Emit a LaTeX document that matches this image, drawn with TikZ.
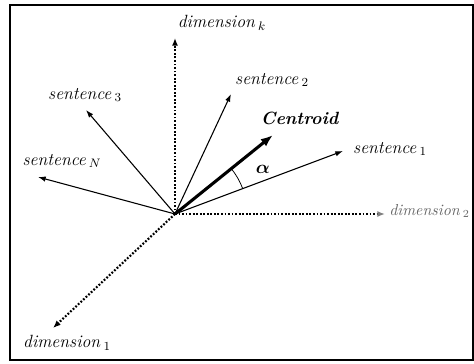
\documentclass[tikz,border=0pt]{standalone}
\usepackage{bm}
\usepackage{tikz}
\usetikzlibrary{arrows.meta, angles}

\tikzset{
  vec/.style={-{Latex[length=5pt,width=3.5pt]}, line width=0.7pt},
  cenvec/.style={-{Latex[length=8pt,width=6pt]}, line width=2pt},
  dimaxis/.style={-{Latex[length=5pt,width=4pt]}, line width=1.4pt, dash pattern=on 1.2pt off 1.1pt},
  lbl/.style={font=\fontsize{11.5}{13}\selectfont}
}

\begin{document}
\begin{tikzpicture}[x=0.65pt, y=0.65pt]
\useasboundingbox (0,0) rectangle (474,363);
\draw[line width=0.9pt] (10,3) rectangle (473,358);
% Punkte
\coordinate (O) at (175,149);
\coordinate (dk) at (175,325);
\coordinate (d2) at (385,149);
\coordinate (d1) at (53,35);
\coordinate (s1) at (343,212);
\coordinate (s2) at (231,269);
\coordinate (s3) at (86,253);
\coordinate (sN) at (38,186);
\coordinate (cen) at (273,228);
% Achsen
\draw[dimaxis] (O) -- (dk);
\draw[dimaxis, -{Latex[length=5pt,width=4pt,gray]}] (O) -- (d2);
\draw[dimaxis] (O) -- (d1);
% Vektoren
\draw[vec] (O) -- (s1);
\draw[vec] (O) -- (s2);
\draw[vec] (O) -- (s3);
\draw[vec] (O) -- (sN);
\draw[cenvec] (O) -- (cen);
\pic[draw, line width=0.5pt, angle radius=47pt] {angle=s1--O--cen};
% Beschriftungen
\node[lbl] (dklbl) at (222,340) {\textit{dimension}\,$_k$};
\node[lbl, font=\fontsize{10.3}{12}\selectfont, text=black!60, anchor=east, inner sep=0pt] (d2lbl) at (470,152) {\textit{dimension}\,$_2$};
\node[lbl] (d1lbl) at (67,20) {\textit{dimension}\,$_1$};
\node[lbl] (s1lbl) at (390,214) {\textit{sentence}\,$_1$};
\node[lbl] (s2lbl) at (272,283) {\textit{sentence}\,$_2$};
\node[lbl] (s3lbl) at (85,268) {\textit{sentence}\,$_3$};
\node[lbl] (sNlbl) at (62,202) {\textit{sentence}\,$_N$};
\node[lbl] (cenlbl) at (300,245) {\textbf{\textit{Centroid}}};
\node[lbl] (alpha) at (263,194) {$\bm{\alpha}$};
\end{tikzpicture}
\end{document}
